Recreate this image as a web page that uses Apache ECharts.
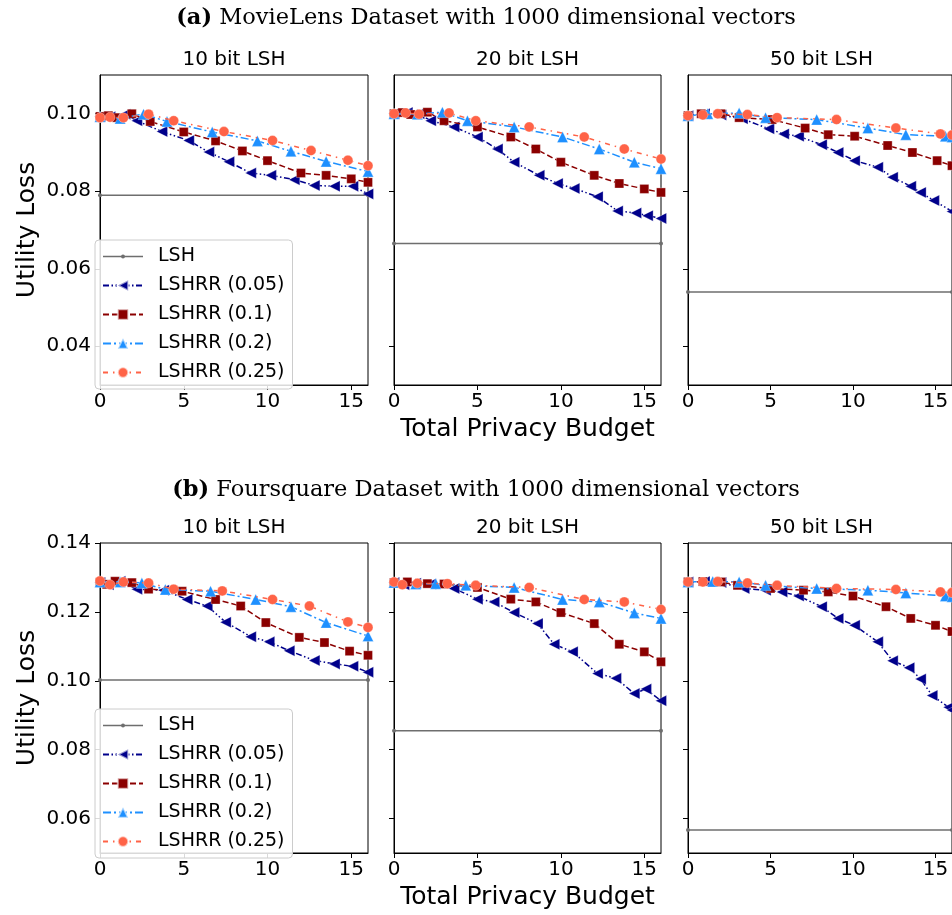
<!DOCTYPE html>
<html><head><meta charset="utf-8">
<script src="https://cdn.jsdelivr.net/npm/echarts@6/dist/echarts.min.js"></script>
<style>html,body{margin:0;padding:0;background:#fff}#c{width:952px;height:915px}</style>
</head><body><div id="c"></div>
<script>
// ---------- data ----------
const xTicks = [0, 5, 10, 15];
const yTicksA = [0.04, 0.06, 0.08, 0.10];
const yTicksB = [0.06, 0.08, 0.10, 0.12, 0.14];
const panelTitles = ['10 bit LSH', '20 bit LSH', '50 bit LSH'];
const rowTitles = ['MovieLens Dataset with 1000 dimensional vectors', 'Foursquare Dataset with 1000 dimensional vectors'];
const rowTags = ['(a)', '(b)'];
const seriesNames = ['LSH', 'LSHRR (0.05)', 'LSHRR (0.1)', 'LSHRR (0.2)', 'LSHRR (0.25)'];

// LSH baseline (constant) per panel
const lshMovie = [0.0790, 0.0665, 0.0540];
const lshFour = [0.1002, 0.0855, 0.0567];

// MovieLens, 10 bit
const m10_005 = [[0,0.0993],[0.6,0.0992],[1.5,0.0999],[2.2,0.0982],[3.7,0.0954],[5.3,0.0931],[6.5,0.0901],[7.7,0.0876],[9.0,0.0847],[10.2,0.0841],[11.6,0.0830],[12.8,0.0815],[14.0,0.0813],[15.1,0.0813],[16,0.0793]];
const m10_01 = [[0,0.0993],[0.5,0.0995],[1.0,0.0990],[1.9,0.1000],[3.0,0.0980],[5.0,0.0953],[6.9,0.0930],[8.5,0.0904],[10.0,0.0879],[12.0,0.0847],[13.5,0.0841],[15.0,0.0832],[16,0.0823]];
const m10_02 = [[0,0.0992],[1.2,0.0988],[2.6,0.0999],[4.0,0.0980],[6.7,0.0953],[9.4,0.0930],[11.4,0.0903],[13.5,0.0877],[16,0.0851]];
const m10_025 = [[0,0.0990],[0.6,0.0991],[1.4,0.0990],[2.9,0.0999],[4.4,0.0982],[7.4,0.0954],[10.3,0.0931],[12.6,0.0905],[14.8,0.0880],[16,0.0866]];
// MovieLens, 20 bit
const m20_005 = [[0,0.1000],[0.8,0.1003],[1.5,0.1000],[2.2,0.0982],[3.6,0.0966],[5.0,0.0940],[6.2,0.0909],[7.2,0.0875],[8.7,0.0841],[9.8,0.0820],[10.8,0.0807],[12.2,0.0786],[13.4,0.0749],[14.5,0.0744],[15.2,0.0737],[16,0.0730]];
const m20_01 = [[0,0.1000],[0.5,0.1003],[1.0,0.0998],[2.0,0.1004],[3.0,0.0982],[5.0,0.0966],[7.0,0.0940],[8.5,0.0909],[10.0,0.0875],[12.0,0.0841],[13.5,0.0820],[15.0,0.0806],[16,0.0797]];
const m20_02 = [[0,0.1000],[1.4,0.0999],[2.9,0.1004],[4.4,0.0982],[7.2,0.0966],[10.1,0.0940],[12.3,0.0909],[14.4,0.0875],[16,0.0858]];
const m20_025 = [[0,0.1000],[0.7,0.1002],[1.5,0.0999],[3.3,0.1002],[4.9,0.0982],[8.1,0.0966],[11.4,0.0940],[13.8,0.0909],[16,0.0883]];
// MovieLens, 50 bit
const m50_005 = [[0,0.0995],[1.0,0.1000],[2.0,0.0997],[3.3,0.0987],[4.9,0.0961],[5.8,0.0948],[6.7,0.0942],[8.1,0.0920],[9.1,0.0900],[10.1,0.0879],[11.5,0.0862],[12.4,0.0836],[13.5,0.0813],[14.1,0.0797],[14.9,0.0776],[16,0.0748]];
const m50_01 = [[0,0.0995],[0.8,0.1000],[2.0,0.1000],[3.1,0.0990],[5.1,0.0985],[7.1,0.0963],[8.5,0.0946],[10.1,0.0942],[12.1,0.0918],[13.6,0.0900],[15.1,0.0879],[16,0.0866]];
const m50_02 = [[0,0.0995],[1.2,0.1000],[3.1,0.1002],[4.7,0.0990],[7.8,0.0985],[10.9,0.0963],[13.2,0.0946],[15.6,0.0942],[16,0.0940]];
const m50_025 = [[0,0.0995],[0.9,0.0997],[1.8,0.1000],[3.6,0.0998],[5.4,0.0990],[9.0,0.0985],[12.6,0.0963],[15.3,0.0948],[16,0.0945]];
// Foursquare, 10 bit
const f10_005 = [[0,0.1285],[0.5,0.1279],[1.2,0.1289],[2.2,0.1266],[3.8,0.1263],[5.2,0.1236],[6.4,0.1217],[7.5,0.1170],[9.0,0.1128],[10.1,0.1113],[11.3,0.1087],[12.8,0.1059],[14.0,0.1049],[15.1,0.1042],[16,0.1025]];
const f10_01 = [[0,0.1285],[0.4,0.1280],[0.9,0.1289],[1.9,0.1285],[2.9,0.1266],[4.9,0.1260],[6.9,0.1236],[8.4,0.1217],[9.9,0.1169],[11.9,0.1126],[13.4,0.1111],[14.9,0.1086],[16,0.1074]];
const f10_02 = [[0,0.1287],[1.2,0.1287],[2.5,0.1284],[3.9,0.1265],[6.6,0.1260],[9.3,0.1236],[11.4,0.1215],[13.5,0.1169],[16,0.1130]];
const f10_025 = [[0,0.1290],[0.6,0.1279],[1.4,0.1287],[2.9,0.1284],[4.4,0.1266],[7.3,0.1261],[10.3,0.1236],[12.5,0.1217],[14.8,0.1171],[16,0.1155]];
// Foursquare, 20 bit
const f20_005 = [[0,0.1285],[0.6,0.1279],[1.3,0.1283],[2.2,0.1281],[3.6,0.1268],[5.0,0.1237],[6.0,0.1229],[7.2,0.1198],[8.6,0.1166],[9.6,0.1106],[10.7,0.1084],[12.2,0.1021],[13.3,0.1007],[14.4,0.0963],[15.1,0.0976],[16,0.0942]];
const f20_01 = [[0,0.1285],[0.8,0.1287],[2.0,0.1282],[3.0,0.1281],[5.0,0.1271],[7.0,0.1237],[8.5,0.1229],[10.0,0.1198],[12.0,0.1166],[13.5,0.1106],[15.0,0.1084],[16,0.1055]];
const f20_02 = [[0,0.1285],[1.3,0.1281],[2.5,0.1282],[4.3,0.1277],[7.2,0.1271],[10.1,0.1236],[12.3,0.1229],[14.4,0.1197],[16,0.1181]];
const f20_025 = [[0,0.1287],[0.5,0.1279],[1.4,0.1283],[3.2,0.1282],[4.9,0.1277],[8.1,0.1271],[11.4,0.1236],[13.8,0.1229],[16,0.1207]];
// Foursquare, 50 bit
const f50_005 = [[0,0.1287],[1.0,0.1288],[2.0,0.1285],[3.4,0.1268],[4.7,0.1263],[5.7,0.1258],[6.7,0.1246],[8.1,0.1215],[9.1,0.1181],[10.1,0.1161],[11.5,0.1113],[12.4,0.1058],[13.4,0.1038],[14.1,0.1005],[14.8,0.0957],[15.8,0.0923],[16,0.0915]];
const f50_01 = [[0,0.1287],[0.9,0.1288],[2.0,0.1287],[3.0,0.1277],[5.0,0.1268],[7.0,0.1263],[8.5,0.1258],[10.0,0.1246],[12.0,0.1215],[13.5,0.1181],[15.0,0.1161],[16,0.1143]];
const f50_02 = [[0,0.1287],[1.5,0.1288],[3.1,0.1287],[4.7,0.1277],[7.8,0.1268],[10.9,0.1263],[13.2,0.1255],[15.6,0.1246],[16,0.1244]];
const f50_025 = [[0,0.1287],[0.9,0.1287],[1.8,0.1288],[3.6,0.1284],[5.4,0.1277],[9.0,0.1268],[12.6,0.1265],[15.3,0.1258],[16,0.1256]];

const xMin = 0, xMax = 16;
const yRangeA = [0.03, 0.11];
const yRangeB = [0.05, 0.14];

// ---------- layout / style ----------
const panels = [
  {lsh: lshMovie[0], s: [m10_005, m10_01, m10_02, m10_025]},
  {lsh: lshMovie[1], s: [m20_005, m20_01, m20_02, m20_025]},
  {lsh: lshMovie[2], s: [m50_005, m50_01, m50_02, m50_025]},
  {lsh: lshFour[0], s: [f10_005, f10_01, f10_02, f10_025]},
  {lsh: lshFour[1], s: [f20_005, f20_01, f20_02, f20_025]},
  {lsh: lshFour[2], s: [f50_005, f50_01, f50_02, f50_025]}
];
const colLeft = [100, 394, 688];
const colWidth = [268, 267, 267];
const rowTop = [75, 543];
const rowHeight = 310;

const styles = [
  {color: '#6e6e6e', type: 'solid', symbol: 'circle', size: 4, rotate: 0},
  {color: '#00008b', type: [6, 2.5, 1.5, 2.5, 1.5, 2.5], symbol: 'triangle', size: 11, rotate: 90},
  {color: '#8b0000', type: [6, 3], symbol: 'rect', size: 9, rotate: 0},
  {color: '#1e90ff', type: [8, 3, 2, 3], symbol: 'triangle', size: 11, rotate: 0},
  {color: '#ff6347', type: [5, 5, 1.5, 5], symbol: 'circle', size: 10, rotate: 0}
];
const FONT = 'DejaVu Sans';

const grids = [], xAxes = [], yAxes = [], series = [];
panels.forEach((p, i) => {
  const r = Math.floor(i / 3), c = i % 3;
  grids.push({left: colLeft[c], top: rowTop[r], width: colWidth[c], height: rowHeight,
    show: true, borderColor: '#000', borderWidth: 1, backgroundColor: 'transparent', containLabel: false});
  xAxes.push({type: 'value', gridIndex: i, min: xMin, max: xMax,
    name: c === 1 ? 'Total Privacy Budget' : '', nameLocation: 'middle', nameGap: 32,
    nameTextStyle: {fontFamily: FONT, fontSize: 25, color: '#000'},
    axisLine: {show: true, onZero: false, lineStyle: {color: '#000', width: 1}},
    axisTick: {show: true, length: 5, lineStyle: {color: '#000'}, customValues: xTicks},
    axisLabel: {show: true, fontFamily: FONT, fontSize: 20, color: '#000', margin: 7, customValues: xTicks},
    splitLine: {show: false}});
  const yr = r === 0 ? yRangeA : yRangeB;
  const yt = r === 0 ? yTicksA : yTicksB;
  yAxes.push({type: 'value', gridIndex: i, min: yr[0], max: yr[1],
    name: c === 0 ? 'Utility Loss' : '', nameLocation: 'middle', nameGap: 60,
    nameTextStyle: {fontFamily: FONT, fontSize: 25, color: '#000'},
    axisLine: {show: true, onZero: false, lineStyle: {color: '#000', width: 1}},
    axisTick: {show: true, length: 5, lineStyle: {color: '#000'}, customValues: yt},
    axisLabel: {show: c === 0, fontFamily: FONT, fontSize: 20, color: '#000', margin: 9,
      customValues: yt, formatter: v => v.toFixed(2)},
    splitLine: {show: false}});
  const allData = [[[xMin, p.lsh], [xMax, p.lsh]]].concat(p.s);
  allData.forEach((d, k) => {
    const st = styles[k];
    series.push({type: 'line', name: seriesNames[k], xAxisIndex: i, yAxisIndex: i, data: d,
      symbol: st.symbol, symbolSize: st.size, symbolRotate: st.rotate, showSymbol: true,
      lineStyle: {color: st.color, width: 1.5, type: st.type},
      itemStyle: {color: st.color, borderColor: 'rgba(255,255,255,0.6)', borderWidth: k === 0 ? 0 : 0.5},
      clip: true, animation: false, silent: true, z: 2 + k});
  });
});

// custom legend icon for LSH: thin line with a small dot (corner specks keep the full box)
const lshIcon = 'path://M0,0L0.01,0L0,0.01Z M39.99,13L40,13L40,12.99Z M0,5.8L40,5.8L40,7.2L0,7.2Z M18,6.5A2,2,0,1,1,22,6.5A2,2,0,1,1,18,6.5Z';
const legendData = seriesNames.map((n, k) => k === 0 ? {name: n, icon: lshIcon} : {name: n});
const legendBase = {orient: 'vertical', data: legendData, itemWidth: 40, itemHeight: 13, itemGap: 10,
  backgroundColor: 'rgba(255,255,255,0.85)', borderColor: '#cccccc', borderWidth: 1, borderRadius: 4,
  padding: [7, 8, 7, 7], textStyle: {fontFamily: FONT, fontSize: 19, color: '#000', padding: [0, 0, 0, 10]},
  selectedMode: false};
const legends = [
  Object.assign({}, legendBase, {left: 95, top: 240}),
  Object.assign({}, legendBase, {left: 95, top: 709})
];

const graphics = [];
[0, 1].forEach(r => {
  graphics.push({type: 'text', x: 486, y: r === 0 ? 18 : 490, z: 10,
    style: {text: '{b|' + rowTags[r] + '} ' + rowTitles[r], fill: '#000',
      font: '22.5px "DejaVu Serif"', textAlign: 'center', textVerticalAlign: 'middle',
      rich: {b: {fontWeight: 'bold', fontFamily: 'DejaVu Serif', fontSize: 22.5}}}});
  [0, 1, 2].forEach(c => {
    graphics.push({type: 'text', x: colLeft[c] + colWidth[c] / 2, y: r === 0 ? 60 : 528, z: 10,
      style: {text: panelTitles[c], fill: '#000', font: '20px "DejaVu Sans"',
        textAlign: 'center', textVerticalAlign: 'middle'}});
  });
});

const chart = echarts.init(document.getElementById('c'), null, {renderer: 'canvas'});
chart.setOption({
  backgroundColor: '#fff', animation: false,
  grid: grids, xAxis: xAxes, yAxis: yAxes, series: series, legend: legends, graphic: graphics
});
</script></body></html>
